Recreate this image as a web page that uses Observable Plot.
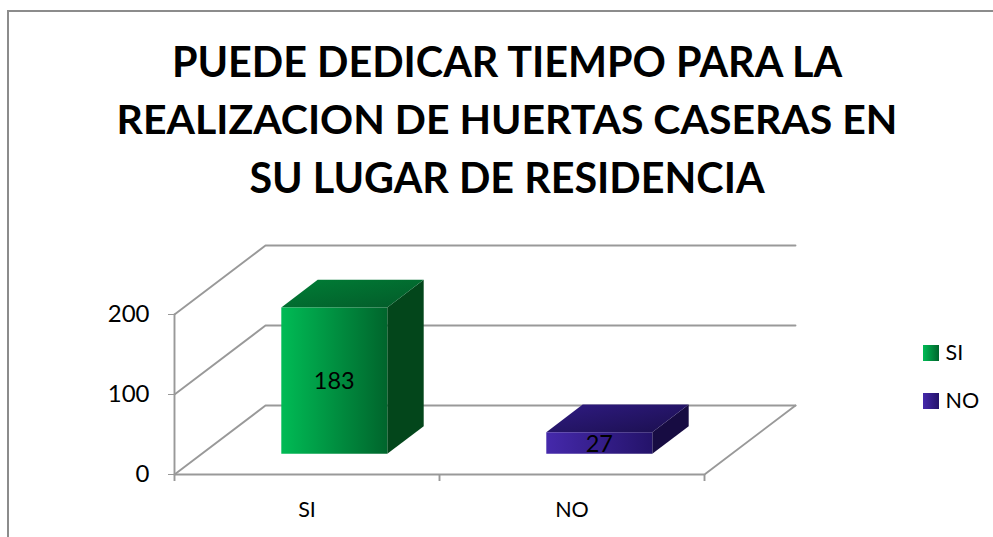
<!DOCTYPE html>
<html lang="es">
<head>
<meta charset="utf-8">
<script src="https://cdn.jsdelivr.net/npm/d3@7"></script>
<script src="https://cdn.jsdelivr.net/npm/@observablehq/plot@0.6"></script>
<style>
  html, body { margin: 0; padding: 0; background: #fff; overflow: hidden; }
  #page { position: relative; width: 993px; height: 537px; font-family: Lato, "Open Sans", sans-serif; color: #000; }
  #frame { position: absolute; left: 7px; top: 10px; width: 986px; height: 527px; border-left: 2px solid #8c8c8c; border-top: 2px solid #8c8c8c; box-sizing: border-box; }
  #title { position: absolute; left: 0; top: 32px; width: 1014px; text-align: center; font-weight: 700; font-size: 41.3px; line-height: 58px; }
  #title div:nth-child(2) { font-size: 41px; }
  #chart { position: absolute; left: 0; top: 225px; }
  .lg { position: absolute; left: 923px; height: 16px; }
  .lg i { position: absolute; left: 0; top: 0; width: 16px; height: 16px; }
  .lg span { position: absolute; left: 22.5px; top: -6px; font-size: 21.5px; line-height: 26px; white-space: nowrap; }
</style>
</head>
<body>
<div id="page">
  <div id="frame"></div>
  <div id="title"></div>
  <div id="chart"></div>
  <div id="legend"></div>
</div>
<script>
const titleLines = ["PUEDE DEDICAR TIEMPO PARA LA", "REALIZACION DE HUERTAS CASERAS EN", "SU LUGAR DE RESIDENCIA"];
const categories = ["SI", "NO"];
const values = [183, 27];
const yTicks = [0, 100, 200];
const frontGradients = [["#00bb55", "#00652c"], ["#4529ab", "#24136a"]];
const topGradients = [["#007e36", "#035a29"], ["#2f1b82", "#1b0f4e"]];
const sideColors = ["#03461b", "#170c42"];
const gridColor = "#999999";

// Oblique projection: a unit of depth moves a point right (category units) and up (value units).
const depthX = 91 / 265, depthY = 86.25;
const proj = (c, v, d) => ({x: c + d * depthX, y: v + d * depthY});
const barFrontDepth = 0.3, barBackDepth = 0.7, barPad = 0.3;

document.getElementById("title").innerHTML = titleLines.map(t => `<div>${t}</div>`).join("");

const gridMarks = [];
for (const v of yTicks) {
  gridMarks.push(Plot.line([proj(0, v, 0), proj(0, v, 1), proj(2, v, 1)], {x: "x", y: "y", stroke: gridColor, strokeWidth: 1.9}));
}
gridMarks.push(Plot.line([proj(0, 0, 0), proj(2, 0, 0), proj(2, 0, 1)], {x: "x", y: "y", stroke: gridColor, strokeWidth: 1.9}));
gridMarks.push(Plot.line([proj(0, 0, 0), proj(0, yTicks[2], 0)], {x: "x", y: "y", stroke: gridColor, strokeWidth: 1.9}));
gridMarks.push(Plot.ruleX([0, 1, 2], {y1: 0, y2: -8.75, stroke: gridColor, strokeWidth: 1.9}));

const barMarks = [];
categories.forEach((c, i) => {
  const v = values[i], l = i + barPad, r = i + 1 - barPad, d0 = barFrontDepth, d1 = barBackDepth;
  const face = (pts, fill) => Plot.line(pts, {x: "x", y: "y", fill, stroke: "none"});
  barMarks.push(face([proj(r, 0, d0), proj(r, 0, d1), proj(r, v, d1), proj(r, v, d0)], sideColors[i]));
  barMarks.push(face([proj(l, v, d0), proj(r, v, d0), proj(r, v, d1), proj(l, v, d1)], `url(#top${i})`));
  barMarks.push(face([proj(l, 0, d0), proj(r, 0, d0), proj(r, v, d0), proj(l, v, d0)], `url(#front${i})`));
});

const labelData = categories.map((c, i) => ({...proj(i + 0.5, values[i] / 2, barFrontDepth), label: String(values[i])}));

const defs = () => {
  const stops = (a) => `<stop offset="0" stop-color="${a[0]}"/><stop offset="1" stop-color="${a[1]}"/>`;
  const g = document.createElementNS("http://www.w3.org/2000/svg", "g");
  g.innerHTML = `<defs>${categories.map((c, i) => `
    <linearGradient id="front${i}" x1="0" x2="1" y1="0" y2="0">${stops(frontGradients[i])}</linearGradient>
    <linearGradient id="top${i}" x1="0" x2="1" y1="0" y2="1">${stops(topGradients[i])}</linearGradient>`).join("")}</defs>`;
  return g;
};

const chart = Plot.plot({
  width: 993, height: 312,
  marginLeft: 174, marginRight: 289, marginTop: 89, marginBottom: 63,
  x: {domain: [0, 2], axis: null},
  y: {domain: [0, 200], axis: null},
  style: {fontFamily: "Lato, 'Open Sans', sans-serif", fontSize: "21px", color: "#000", background: "transparent", overflow: "visible"},
  marks: [
    defs,
    ...gridMarks,
    Plot.axisY({ticks: yTicks, tickSize: 6, tickPadding: 19, stroke: gridColor, fill: "#000", label: null, fontSize: 24, tickFormat: d => String(d)}),
    Plot.axisX({ticks: [0.5, 1.5], tickSize: 0, tickPadding: 27, fill: "#000", label: null, fontSize: 21.5, tickFormat: d => categories[d - 0.5]}),
    ...barMarks,
    Plot.text(labelData, {x: "x", y: "y", text: "label", fill: "#000", fontSize: 23.5, dy: 1})
  ]
});
document.getElementById("chart").appendChild(chart);

const legendTop = [345, 393];
document.getElementById("legend").innerHTML = categories.map((c, i) =>
  `<div class="lg" style="top:${legendTop[i]}px"><i style="background:linear-gradient(90deg,${frontGradients[i][0]},${frontGradients[i][1]})"></i><span>${c}</span></div>`
).join("");
</script>
</body>
</html>
